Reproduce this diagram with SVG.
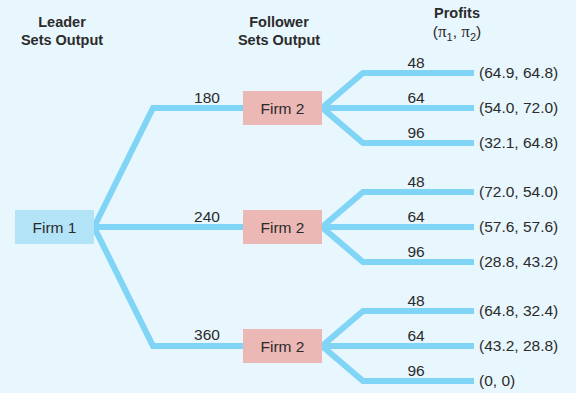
<svg xmlns="http://www.w3.org/2000/svg" width="576" height="393" viewBox="0 0 576 393">
<style>
.bg{fill:#e8f6fd}
.e{fill:none;stroke:#80d4f6;stroke-width:6;stroke-linejoin:miter}
.f1{fill:#b3e3f7}
.f2{fill:#ebb8b5}
.t{font-family:"Liberation Sans",Arial,sans-serif;font-size:15.5px;fill:#2b2b2b}
.h{font-family:"Liberation Sans",Arial,sans-serif;font-size:14.5px;font-weight:bold;fill:#2b2b2b;text-anchor:middle}
.m{text-anchor:middle}
.g{font-family:"Liberation Serif","Times New Roman",serif;font-size:17px;fill:#2b2b2b}
</style>
<rect class="bg" width="576" height="393"/>
<g id="headers">
<text class="h" x="62" y="27">Leader</text>
<text class="h" x="62" y="45">Sets Output</text>
<text class="h" x="279" y="27">Follower</text>
<text class="h" x="279" y="45">Sets Output</text>
<text class="h" x="457" y="18">Profits</text>
<text class="t" x="457" y="37" text-anchor="middle" font-size="15.5">(<tspan class="g">π</tspan><tspan font-size="11" dy="4">1</tspan><tspan dy="-4">, </tspan><tspan class="g">π</tspan><tspan font-size="11" dy="4">2</tspan><tspan dy="-4">)</tspan></text>
</g>
<g id="connectors">
<path class="e" d="M94,227 L153,108 L245,108"/>
<path class="e" d="M94,227 L245,227"/>
<path class="e" d="M94,227 L153,346 L245,346"/>
<path class="e" d="M322,108 L363,73 L474,73 M322,108 L474,108 M322,108 L363,143 L474,143"/>
<path class="e" d="M322,227 L363,192 L474,192 M322,227 L474,227 M322,227 L363,262 L474,262"/>
<path class="e" d="M322,346 L363,311 L474,311 M322,346 L474,346 M322,346 L363,381 L474,381"/>
</g>
<g id="edge-labels" class="t m">
<text x="207" y="103">180</text>
<text x="207" y="222">240</text>
<text x="207" y="340">360</text>
<text x="416" y="68">48</text>
<text x="416" y="103">64</text>
<text x="416" y="138">96</text>
<text x="416" y="187">48</text>
<text x="416" y="222">64</text>
<text x="416" y="257">96</text>
<text x="416" y="306">48</text>
<text x="416" y="341">64</text>
<text x="416" y="376">96</text>
</g>
<g id="firm1">
<rect class="f1" x="15" y="210" width="79" height="34"/>
<text class="t m" x="54.5" y="232.5">Firm 1</text>
</g>
<g id="firm2-a">
<rect class="f2" x="243" y="91" width="79" height="34"/>
<text class="t m" x="282.5" y="113.5">Firm 2</text>
</g>
<g id="firm2-b">
<rect class="f2" x="243" y="210" width="79" height="34"/>
<text class="t m" x="282.5" y="232.5">Firm 2</text>
</g>
<g id="firm2-c">
<rect class="f2" x="243" y="329" width="79" height="34"/>
<text class="t m" x="282.5" y="351.5">Firm 2</text>
</g>
<g id="payoffs" class="t">
<text x="479" y="78">(64.9, 64.8)</text>
<text x="479" y="113">(54.0, 72.0)</text>
<text x="479" y="148">(32.1, 64.8)</text>
<text x="479" y="197">(72.0, 54.0)</text>
<text x="479" y="232">(57.6, 57.6)</text>
<text x="479" y="267">(28.8, 43.2)</text>
<text x="479" y="316">(64.8, 32.4)</text>
<text x="479" y="351">(43.2, 28.8)</text>
<text x="479" y="386">(0, 0)</text>
</g>
</svg>
